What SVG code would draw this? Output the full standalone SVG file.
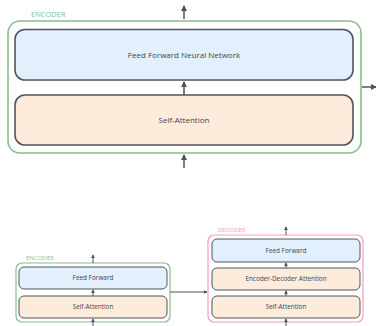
<svg xmlns="http://www.w3.org/2000/svg" width="376" height="326" viewBox="0 0 376 326">
<defs>
<style>
.enc{fill:#ffffff;stroke:#86bf8e;stroke-width:1.6}
.dec{fill:#ffffff;stroke:#f29bc4;stroke-width:1.6}
.ff{fill:#e2effd;stroke:#4f555c;stroke-width:1.6}
.sa{fill:#fdebdb;stroke:#4f555c;stroke-width:1.6}
.ffs{fill:#e2effd;stroke:#4f555c;stroke-width:1}
.sas{fill:#fdebdb;stroke:#4f555c;stroke-width:1}
.t{font-family:"Open Sans","Noto Sans",sans-serif;fill:#41464c;text-anchor:middle}
.lbl{font-family:"Open Sans","Noto Sans",sans-serif}
.c{stroke:#4f555c;fill:none}
</style>
<marker id="ah" viewBox="0 0 6 6" refX="5" refY="3" markerWidth="6" markerHeight="6" markerUnits="userSpaceOnUse" orient="auto">
<path d="M0,0 L6,3 L0,6 z" fill="#4f555c"/>
</marker>
<marker id="ahs" viewBox="0 0 6 6" refX="5" refY="3" markerWidth="4" markerHeight="4" markerUnits="userSpaceOnUse" orient="auto">
<path d="M0,0 L6,3 L0,6 z" fill="#4f555c"/>
</marker>
</defs>

<g id="encoder-big">
<rect class="enc" x="8" y="21" width="353" height="132" rx="12"/>
<text class="lbl" x="31" y="16.5" font-size="7.5" fill="#86bf8e">ENCODER</text>
</g>
<g id="ffnn">
<rect class="ff" x="15" y="29.5" width="338" height="50.5" rx="10"/>
<text class="t" x="184" y="57.5" font-size="8">Feed Forward Neural Network</text>
</g>
<g id="self-attention-big">
<rect class="sa" x="15" y="95" width="338" height="50" rx="10"/>
<text class="t" x="184" y="123" font-size="8">Self-Attention</text>
</g>

<g id="encoder-small">
<rect class="enc" x="16" y="263" width="154" height="59" rx="6" style="stroke-width:1.2"/>
<text class="lbl" x="26" y="260" font-size="6" fill="#86bf8e">ENCODER</text>
</g>
<g id="enc-ff">
<rect class="ffs" x="19" y="267" width="148" height="22" rx="5"/>
<text class="t" x="93" y="280.2" font-size="6.4">Feed Forward</text>
</g>
<g id="enc-sa">
<rect class="sas" x="19" y="296" width="148" height="22" rx="5"/>
<text class="t" x="93" y="309.2" font-size="6.4">Self-Attention</text>
</g>

<g id="decoder">
<rect class="dec" x="208" y="235" width="155" height="87" rx="6" style="stroke-width:1.2"/>
<text class="lbl" x="218" y="232" font-size="6" fill="#f29bc4">DECODER</text>
</g>
<g id="dec-ff">
<rect class="ffs" x="212" y="239" width="148" height="23" rx="5"/>
<text class="t" x="286" y="252.7" font-size="6.4">Feed Forward</text>
</g>
<g id="dec-eda">
<rect class="sas" x="212" y="268" width="148" height="22" rx="5"/>
<text class="t" x="286" y="281.2" font-size="6.4">Encoder-Decoder Attention</text>
</g>
<g id="dec-sa">
<rect class="sas" x="212" y="296" width="148" height="22" rx="5"/>
<text class="t" x="286" y="309.2" font-size="6.4">Self-Attention</text>
</g>

<g id="connectors">
<line class="c" stroke-width="1.5" x1="184" y1="19" x2="184" y2="6" marker-end="url(#ah)"/>
<line class="c" stroke-width="1.5" x1="184" y1="95" x2="184" y2="82" marker-end="url(#ah)"/>
<line class="c" stroke-width="1.5" x1="184" y1="168" x2="184" y2="155" marker-end="url(#ah)"/>
<line class="c" stroke-width="1.5" x1="362" y1="87" x2="376" y2="87" marker-end="url(#ah)"/>
<line class="c" stroke-width="1" x1="93" y1="263" x2="93" y2="255" marker-end="url(#ahs)"/>
<line class="c" stroke-width="1" x1="93" y1="296" x2="93" y2="290" marker-end="url(#ahs)"/>
<line class="c" stroke-width="1" x1="93" y1="326" x2="93" y2="319" marker-end="url(#ahs)"/>
<line class="c" stroke-width="1" x1="170" y1="292" x2="207" y2="292" marker-end="url(#ahs)"/>
<line class="c" stroke-width="1" x1="286" y1="235" x2="286" y2="227" marker-end="url(#ahs)"/>
<line class="c" stroke-width="1" x1="286" y1="268" x2="286" y2="263" marker-end="url(#ahs)"/>
<line class="c" stroke-width="1" x1="286" y1="296" x2="286" y2="291" marker-end="url(#ahs)"/>
<line class="c" stroke-width="1" x1="286" y1="326" x2="286" y2="319" marker-end="url(#ahs)"/>
</g>
</svg>
